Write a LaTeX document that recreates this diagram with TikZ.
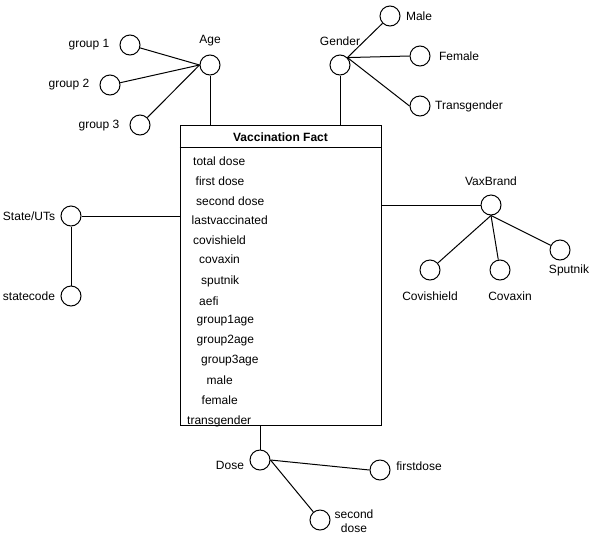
\documentclass[tikz,border=0pt]{standalone}
\usepackage{fontspec}
\setmainfont{Liberation Sans}
\usetikzlibrary{calc}

\tikzstyle{Attr}=[circle,draw=black,line width=1pt,minimum size=20pt,inner sep=0pt]
\tikzstyle{Label}=[font=\fontsize{12}{14}\selectfont,inner sep=0pt,align=center]
\tikzstyle{Field}=[Label,anchor=west]
\tikzstyle{Table}=[rectangle,draw=black,line width=1pt,minimum width=201pt,minimum height=300pt,inner sep=0pt]
\tikzstyle{Link}=[black,line width=1pt]

\begin{document}
\begin{tikzpicture}[x=1pt, y=-1pt]
		\useasboundingbox[fill=white] (0,0) rectangle (601,536);
		
		% Fact table
		\draw(280.5,275) node[Table] (Fact) {};
		\draw[Link] (Fact.north west) ++(0,23) coordinate (HeadL) -- (HeadL -| Fact.east);
		\draw(280.5,137) node[Label,font=\fontsize{12}{14}\selectfont\bfseries] (FactTitle) {Vaccination Fact};
		% Fact table fields
		\draw(193,161) node[Field] (FTotal) {total dose};
		\draw(195.5,181) node[Field] (FFirst) {first dose};
		\draw(196,201) node[Field] (FSecond) {second dose};
		\draw(191.5,220) node[Field] (FLast) {lastvaccinated};
		\draw(193,240) node[Field] (FCovishield) {covishield};
		\draw(199,259) node[Field] (FCovaxin) {covaxin};
		\draw(201,281) node[Field] (FSputnik) {sputnik};
		\draw(199,301) node[Field] (FAefi) {aefi};
		\draw(196.5,321) node[Field] (FGroupA) {group1age};
		\draw(196.5,341) node[Field] (FGroupB) {group2age};
		\draw(201,361) node[Field] (FGroupC) {group3age};
		\draw(206.5,380) node[Field] (FMale) {male};
		\draw(201.5,400) node[Field] (FFemale) {female};
		\draw(187,421) node[Field] (FTrans) {transgender};
		
		% Age dimension
		\draw(210,65) node[Attr] (Age) {};
		\draw(210,41) node[Label] (AgeLabel) {Age};
		\draw(130,45) node[Attr] (GroupA) {};
		\draw(89,45) node[Label] (GroupALabel) {group 1};
		\draw(110,85) node[Attr] (GroupB) {};
		\draw(69,85) node[Label] (GroupBLabel) {group 2};
		\draw(140,125) node[Attr] (GroupC) {};
		\draw(99,126) node[Label] (GroupCLabel) {group 3};
		% Age links
		\draw[Link] (GroupA) -- (Age.west);
		\draw[Link] (GroupB) -- (Age.west);
		\draw[Link] (GroupC) -- (Age.west);
		\draw[Link] (Age) -- (Age |- Fact.north);
		
		% Gender dimension
		\draw(340,65) node[Attr] (Gender) {};
		\draw(340,41) node[Label] (GenderLabel) {Gender};
		\draw(390,16) node[Attr] (Male) {};
		\draw(419,16) node[Label] (MaleLabel) {Male};
		\draw(420,56) node[Attr] (Female) {};
		\draw(459,56) node[Label] (FemaleLabel) {Female};
		\draw(420,106) node[Attr] (Trans) {};
		\draw(469,106) node[Label] (TransLabel) {Transgender};
		% Gender links
		\draw[Link] (Gender.north east) -- (Male);
		\draw[Link] (Gender.north east) -- (Female.west);
		\draw[Link] (Gender.north east) -- (Trans.west);
		\draw[Link] (Gender) -- (Gender |- Fact.north);
		
		% State dimension
		\draw(71,216) node[Attr] (State) {};
		\draw(29,216) node[Label] (StateLabel) {State/UTs};
		\draw(71,296) node[Attr] (StateCode) {};
		\draw(29,296) node[Label] (StateCodeLabel) {statecode};
		% State links
		\draw[Link] (State) -- (State -| Fact.west);
		\draw[Link] (State) -- (StateCode);
		
		% VaxBrand dimension
		\draw(491,205) node[Attr] (Brand) {};
		\draw(491,181) node[Label] (BrandLabel) {VaxBrand};
		\draw(430,270) node[Attr] (Covishield) {};
		\draw(430,296) node[Label] (CovishieldLabel) {Covishield};
		\draw(500,270) node[Attr] (Covaxin) {};
		\draw(510,296) node[Label] (CovaxinLabel) {Covaxin};
		\draw(560,250) node[Attr] (Sputnik) {};
		\draw(569,270) node[Label] (SputnikLabel) {Sputnik};
		% VaxBrand links
		\draw[Link] (Brand) -- (Brand -| Fact.east);
		\draw[Link] (Brand.south) -- (Covishield);
		\draw[Link] (Brand.south) -- (Covaxin);
		\draw[Link] (Brand.south) -- (Sputnik);
		
		% Dose dimension
		\draw(260,460) node[Attr] (Dose) {};
		\draw(230,465) node[Label] (DoseLabel) {Dose};
		\draw(380,470) node[Attr] (FirstDose) {};
		\draw(419,466) node[Label] (FirstDoseLabel) {firstdose};
		\draw(320,520) node[Attr] (SecondDose) {};
		\draw(354,521) node[Label] (SecondDoseLabel) {second\\dose};
		% Dose links
		\draw[Link] (Fact.south -| Dose) -- (Dose);
		\draw[Link] (Dose.east) -- (FirstDose.west);
		\draw[Link] (Dose.east) -- (SecondDose);
		
	\end{tikzpicture}
\end{document}
